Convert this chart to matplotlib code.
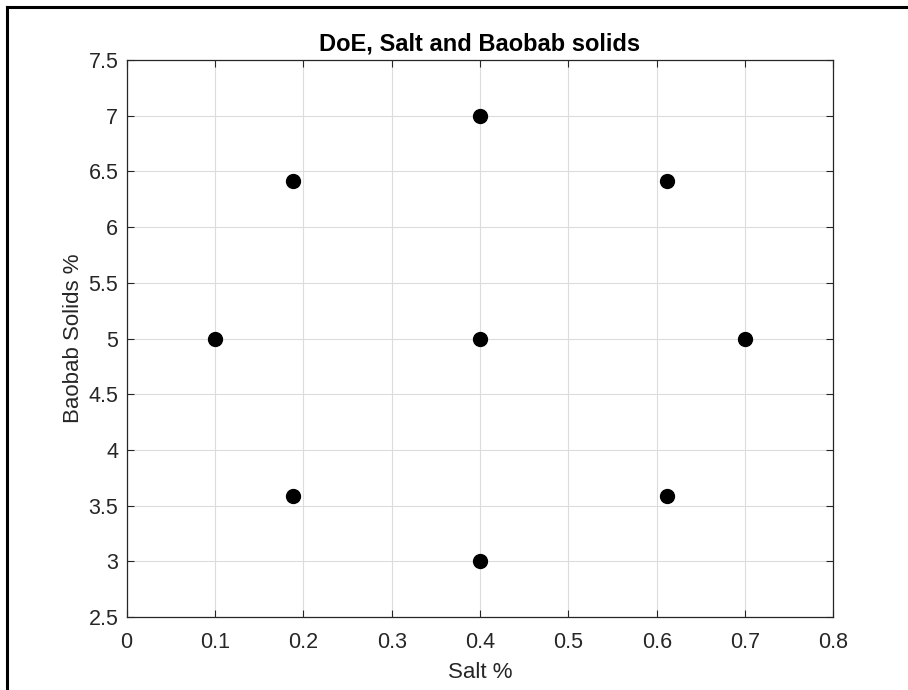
import matplotlib
matplotlib.use('Agg')
import matplotlib.pyplot as plt
from matplotlib.lines import Line2D

# central composite design points
salt   = [0.1, 0.7, 0.4, 0.4, 0.4, 0.188, 0.612, 0.188, 0.612]
baobab = [5.0, 5.0, 3.0, 7.0, 5.0, 3.586, 3.586, 6.414, 6.414]

XTICKS = [0, 0.1, 0.2, 0.3, 0.4, 0.5, 0.6, 0.7, 0.8]
YTICKS = [2.5, 3, 3.5, 4, 4.5, 5, 5.5, 6, 6.5, 7, 7.5]

plt.rcParams['font.family'] = ['Liberation Sans', 'DejaVu Sans']

fig = plt.figure(figsize=(9.08, 6.9), dpi=100)
ax = fig.add_axes([0.1395, 0.1058, 0.7783, 0.8072])

ax.plot(salt, baobab, 'o', color='black', markersize=10, linestyle='none')

ax.set_xlim(0, 0.8)
ax.set_ylim(2.5, 7.5)
ax.set_xticks(XTICKS)
ax.set_xticklabels(['0', '0.1', '0.2', '0.3', '0.4', '0.5', '0.6', '0.7', '0.8'])
ax.set_yticks(YTICKS)
ax.set_yticklabels(['2.5', '3', '3.5', '4', '4.5', '5', '5.5', '6', '6.5', '7', '7.5'])
ax.grid(True, color='#dcdcdc', linewidth=0.8)
ax.set_axisbelow(True)
ax.tick_params(direction='in', length=5, width=0.8, colors='#262626',
               labelsize=15.5, top=True, right=True, pad=6)
ax.tick_params(axis='x', pad=11)
for s in ax.spines.values():
    s.set_color('#262626')
    s.set_linewidth(0.9)

ax.set_title('DoE, Salt and Baobab solids', fontsize=17, fontweight='bold', pad=7)
ax.set_xlabel('Salt %', fontsize=16, color='#262626', labelpad=6)
ax.set_ylabel('Baobab Solids %', fontsize=16, color='#262626', labelpad=3)

# black frame around the image (top and left edges visible)
fig.add_artist(Line2D([0.0077, 1.0], [0.9898, 0.9898], color='black', linewidth=2.2,
                      transform=fig.transFigure))
fig.add_artist(Line2D([0.0077, 0.0077], [0.0, 0.9898], color='black', linewidth=2.2,
                      transform=fig.transFigure))

fig.savefig('out.png', dpi=100)
